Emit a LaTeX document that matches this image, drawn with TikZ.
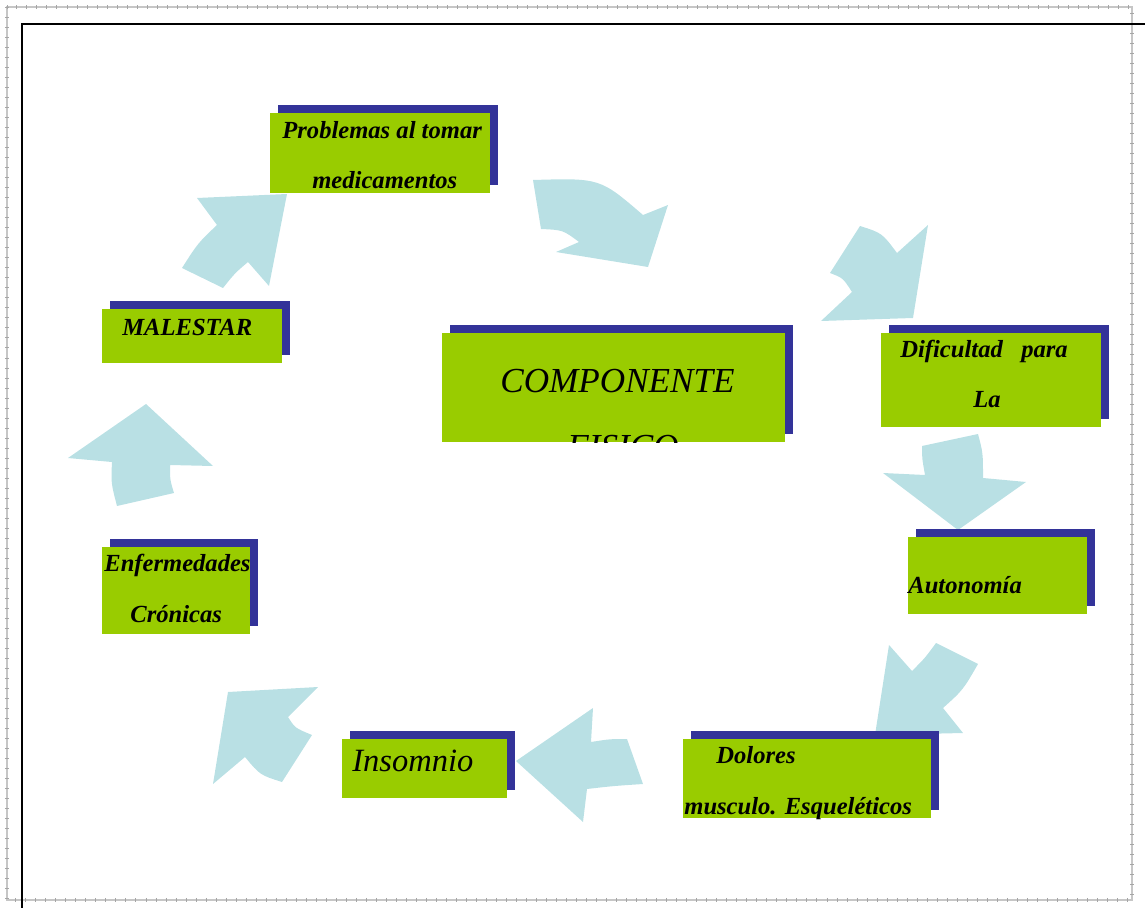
\documentclass[tikz,border=0pt]{standalone}
\usepackage{fontspec}
\setmainfont{Liberation Serif}
\usepackage{tikz}
\usetikzlibrary{fit,shadows}

\definecolor{verde}{RGB}{153,204,0}
\definecolor{sombra}{RGB}{51,51,153}
\definecolor{flecha}{RGB}{185,224,228}

\begin{document}
\begin{tikzpicture}[x=0.02cm,y=-0.02cm,
    caja/.style={fill=verde, inner sep=0pt, draw=none,
      drop shadow={shadow xshift=0.16cm, shadow yshift=0.16cm, fill=sombra, opacity=1}},
    etiq/.style={font=\bfseries\itshape\fontsize{14}{16}\selectfont, inner sep=0pt, anchor=base west},
    grande/.style={font=\itshape\fontsize{20}{24}\selectfont, inner sep=0pt, anchor=base west},
    bloque/.style={fill=flecha, draw=none}]
        \useasboundingbox (0,0) rectangle (1145,908);
        % marcos
        \draw[gray!45, line width=1pt] (7,7) rectangle (1132,900);
        \draw[gray!70, line width=1.8pt, dash pattern=on 0.4pt off 5.3pt] (7,7) rectangle (1132,900);
        \draw[line width=1.1pt] (1145,24) -- (22,24) -- (22,908);
        % flechas
        \fill[bloque] (533,180) .. controls (600,178) .. (643,215) -- (668,205) -- (648,267)
          -- (556,252) -- (579,242) .. controls (563,230) .. (541,229) -- cycle;
        \fill[bloque] (860,226) .. controls (882,233) .. (897,253) -- (928,225) -- (913,318)
          -- (821,321) -- (852,292) .. controls (843,278) .. (830,273) -- cycle;
        \fill[bloque] (922,446) -- (978,434) .. controls (983,453) .. (983,478) -- (1026,482)
          -- (958,530) -- (883,473) -- (925,475) .. controls (922,458) .. (922,446) -- cycle;
        \fill[bloque] (889,645) -- (912,671) .. controls (925,658) .. (936,643) -- (978,664)
          .. controls (963,690) .. (943,708) -- (963,733) -- (875,735) -- cycle;
        \fill[bloque] (593,708) -- (591,742) .. controls (610,739) .. (627,739) -- (643,784)
          .. controls (613,786) .. (587,789) -- (583,822) -- (516,761) -- cycle;
        \fill[bloque] (228,692) -- (318,687) -- (288,717) .. controls (295,728) .. (312,735)
          -- (282,782) .. controls (260,775) .. (245,757) -- (213,784) -- cycle;
        \fill[bloque] (146,404) -- (213,466) -- (170,465) .. controls (170,480) .. (174,493)
          -- (117,506) .. controls (111,483) .. (112,462) -- (68,458) -- cycle;
        \fill[bloque] (197,198) -- (287,194) -- (269,286) -- (248,262) .. controls (235,273) .. (223,288)
          -- (182,268) .. controls (198,243) .. (217,225) -- cycle;
        % cajas
        \node[caja, fit={(270,113) (490,193)}] (prob) {};
        \node[caja, fit={(102,309) (282,363)}] (mal) {};
        \node[caja, fit={(442,333) (785,442)}] (comp) {};
        \node[caja, fit={(881,333) (1101,427)}] (dif) {};
        \node[caja, fit={(908,537) (1087,614)}] (auto) {};
        \node[caja, fit={(683,739) (931,818)}] (dol) {};
        \node[caja, fit={(342,739) (507,798)}] (ins) {};
        \node[caja, fit={(102,547) (250,634)}] (enf) {};
        % textos
        \node[etiq] (prob-a) at (282,139) {Problemas al tomar};
        \node[etiq] (prob-b) at (312,189) {medicamentos};
        \node[etiq] (mal-a) at (122,336) {MALESTAR};
        \node[grande] (comp-a) at (500,393) {COMPONENTE};
        \begin{scope}
          \clip (comp.south west) rectangle (comp.north east);
          \node[grande] (comp-b) at (567,459) {FISICO};
        \end{scope}
        \node[etiq] (dif-a) at (900,358) {Dificultad\ \ \ para};
        \node[etiq] (dif-b) at (973,408) {La};
        \node[etiq] (auto-a) at (908,593) {Autonomía};
        \node[etiq] (dol-a) at (716,763) {Dolores};
        \node[etiq] (dol-b) at (684,814) {musculo. Esqueléticos};
        \node[grande, font=\itshape\fontsize{18.5}{22}\selectfont] (ins-a) at (352,771) {Insomnio};
        \node[etiq] (enf-a) at (104,571) {Enfermedades};
        \node[etiq] (enf-b) at (130,622) {Crónicas};
      \end{tikzpicture}
\end{document}
